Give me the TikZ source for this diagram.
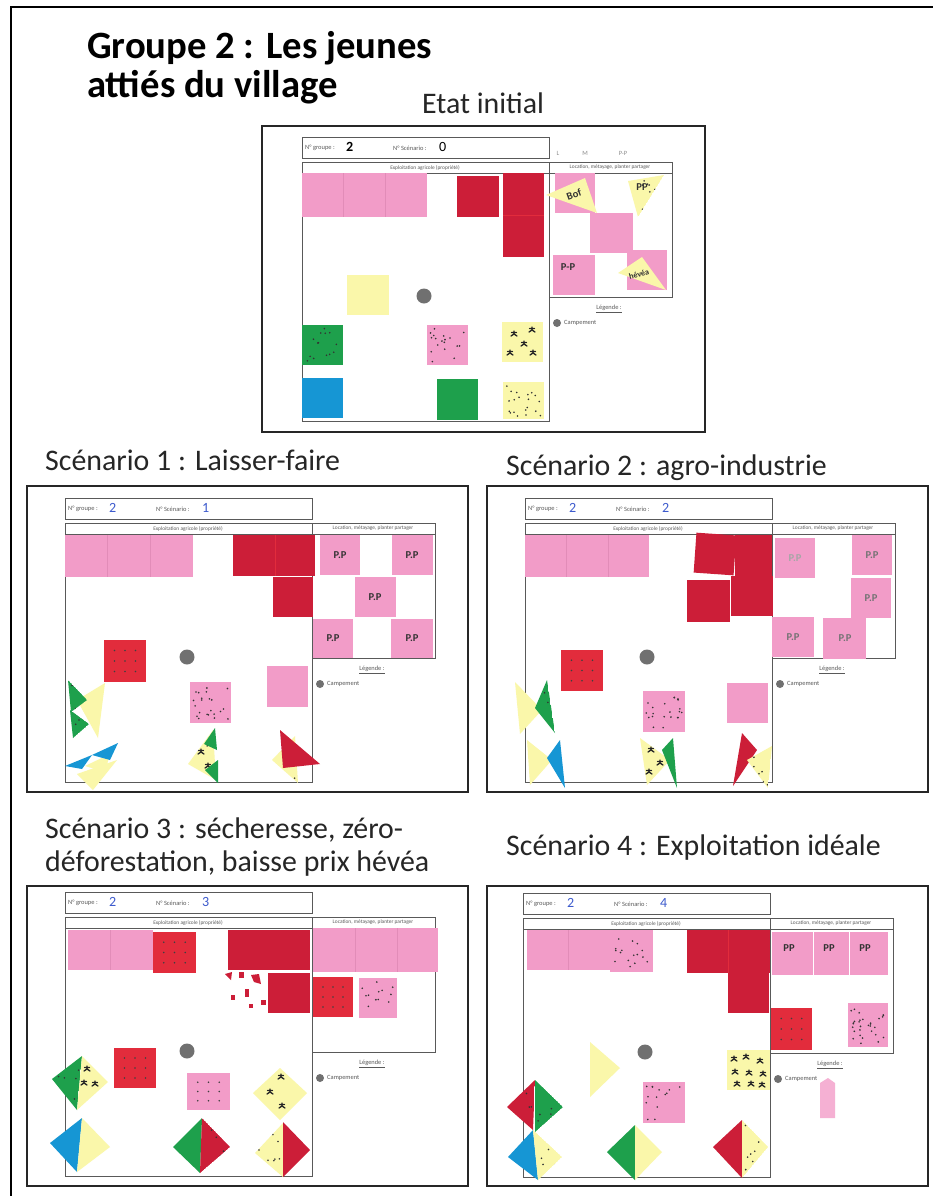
\documentclass[tikz,border=0pt]{standalone}
\usepackage{fontspec}
\setmainfont{Carlito}
\usetikzlibrary{positioning}

\definecolor{pinknote}{RGB}{242,156,200}
\definecolor{pinkseam}{RGB}{226,140,184}
\definecolor{rednote}{RGB}{204,30,56}
\definecolor{reddot}{RGB}{226,44,60}
\definecolor{greennote}{RGB}{30,160,76}
\definecolor{bluenote}{RGB}{22,150,212}
\definecolor{yellownote}{RGB}{250,247,170}
\definecolor{campgray}{RGB}{112,112,112}
\definecolor{blueink}{RGB}{60,90,205}

\tikzset{
  panel/.style={draw=black!85, line width=1.1pt},
  frameline/.style={draw=black, line width=1.6pt},
  boardline/.style={draw=black!65, line width=0.6pt},
  seam/.style={draw=#1, line width=0.5pt},
  headtxt/.style={font=\fontsize{33}{38}\selectfont\bfseries, inner sep=0pt, anchor=base west},
  captxt/.style={font=\fontsize{25.5}{30}\selectfont, inner sep=0pt, anchor=base west, text=black!85},
  tinytxt/.style={font=\fontsize{4.6}{5}\selectfont, inner sep=0pt, text=black!65},
  smalltxt/.style={font=\fontsize{5.5}{6}\selectfont, inner sep=0pt, text=black!65},
  inktxt/.style={font=\fontsize{12}{12}\selectfont, inner sep=0pt},
  handtxt/.style={font=\fontsize{9}{9}\selectfont\bfseries, inner sep=0pt, text=black!80},
  treeink/.style={draw=black!85, line width=1.1pt, line cap=round}
}

% dots scattered over a note
\newcommand{\speckle}[5]{%
  \foreach \k in {1,...,#5}{%
    \pgfmathsetmacro{\px}{#1+3+rnd*(#3-#1-6)}%
    \pgfmathsetmacro{\py}{#2+3+rnd*(#4-#2-6)}%
    \fill[black!80] (\px,\py) circle (0.9);}}
% dots in rows
\newcommand{\griddots}[4]{%
  \foreach \i in {1,2,3}{\foreach \j in {1,2,3}{%
    \fill[black!75] ({#1+\i*(#3-#1)/4},{#2+\j*(#4-#2)/4}) circle (0.9);}}}
% small tree mark
\newcommand{\sprout}[2]{%
  \draw[treeink] (#1-3,#2+2) -- (#1,#2) -- (#1+3,#2+2) (#1,#2) -- (#1,#2-3) (#1-2.5,#2-1.5) -- (#1+2.5,#2-1.5);}
% dotted triangle piece
\newcommand{\dottri}[9]{%
  \begin{scope}
    \clip #2 -- #3 -- #4 -- cycle;
    \fill[#1] #2 -- #3 -- #4 -- cycle;
    \speckle{#5}{#6}{#7}{#8}{#9}
  \end{scope}}
% empty board of one scenario
\newcommand{\board}[4]{%
  \draw[boardline] (0,0) rectangle (247,21);
  \node[smalltxt, anchor=west] (#1-grp) at (3,11) {N° groupe :};
  \node[inktxt, text=#4, anchor=west] (#1-gnum) at (44,10) {#2};
  \node[smalltxt, anchor=west] (#1-scn) at (91,11) {N° Scénario :};
  \node[inktxt, text=#4, anchor=west] (#1-snum) at (137,10) {#3};
  \draw[boardline] (0,25) rectangle (247,284);
  \draw[boardline] (0,36) -- (370,36);
  \node[tinytxt] (#1-prop) at (123,30.5) {Exploitation agricole (propriété)};
  \draw[boardline] (247,25) rectangle (370,160);
  \node[tinytxt] (#1-loc) at (308,30.5) {Location, métayage, planter partager};
  \node[smalltxt] (#1-leg) at (307,172) {\underline{Légende :}};
  \fill[campgray] (255,186) circle (4);
  \node[smalltxt, anchor=west] (#1-camp) at (262,186) {Campement};
  \fill[campgray] (122,159) circle (7.5);}

\begin{document}
\begin{tikzpicture}[x=0.03cm, y=-0.03cm]
\pgfmathsetseed{42}
\useasboundingbox (0,0) rectangle (933,1196);
\fill[white] (0,0) rectangle (933,1196);
\draw[frameline] (11,1196) -- (11,7) -- (933,7);

% titles
\node[headtxt] (title) at (87,58) {Groupe 2 : Les jeunes};
\node[headtxt] (subtitle) at (87,97) {attiés du village};
\node[captxt] (etat) at (422,113) {Etat initial};
\node[captxt] (sc1) at (45,470) {Scénario 1 : Laisser-faire};
\node[captxt] (sc2) at (506,475) {Scénario 2 : agro-industrie};
\node[captxt] (sc3a) at (45,838) {Scénario 3 : sécheresse, zéro-};
\node[captxt] (sc3b) at (45,871) {déforestation, baisse prix hévéa};
\node[captxt] (sc4) at (506,855) {Scénario 4 : Exploitation idéale};

% photo frames
\draw[panel] (262,126) rectangle (705,432);
\draw[panel] (27,486) rectangle (468,792);
\draw[panel] (487,486) rectangle (928,792);
\draw[panel] (27,886) rectangle (468,1186);
\draw[panel] (487,886) rectangle (928,1186);

% etat initial
\begin{scope}[shift={(302,137)}]
\board{e}{\textbf{2}}{0}{black}
\node[smalltxt, text=black!45] (e-l) at (256,16) {L};
\node[smalltxt, text=black!45] (e-m) at (283,16) {M};
\node[smalltxt, text=black!45] (e-pp) at (321,16) {P-P};
\fill[pinknote] (0,36) rectangle (125,80);
\draw[seam=pinkseam] (41,36) -- (41,80) (83,36) -- (83,80);
\fill[rednote] (155,39) rectangle (197,80);
\fill[rednote] (201,36) rectangle (242,120);
\draw[seam=reddot] (201,78.5) -- (242,78.5);
\fill[yellownote] (45,138) rectangle (87,178);
\fill[greennote] (0,188) rectangle (41,228); \speckle{0}{188}{41}{228}{14}
\fill[pinknote] (125,188) rectangle (166,228); \speckle{125}{188}{166}{228}{18}
\fill[yellownote] (200,185) rectangle (241,225);
\sprout{212}{197} \sprout{230}{193} \sprout{222}{207} \sprout{208}{216} \sprout{231}{216}
\fill[bluenote] (0,241) rectangle (41,281);
\fill[greennote] (135,242) rectangle (176,283);
\fill[yellownote] (201,245) rectangle (242,282); \speckle{201}{245}{242}{282}{20}
\fill[pinknote] (253,36) rectangle (293,76);
\fill[yellownote] (244,58) -- (283,41) -- (295,76) -- cycle;
\node[handtxt, rotate=20] (e-bof) at (272,58) {Bof};
\dottri{yellownote}{(326,44)}{(362,38)}{(336,80)}{326}{38}{362}{80}{10}
\node[handtxt] (e-pp1) at (340,50) {PP};
\fill[pinknote] (288,76) rectangle (331,116);
\fill[pinknote] (251,118) rectangle (293,158);
\node[handtxt] (e-pp2) at (266,130) {P-P};
\fill[pinknote] (325,113) rectangle (365,153);
\fill[yellownote] (316,136) -- (340,120) -- (364,153) -- cycle;
\node[handtxt, rotate=15, font=\fontsize{7}{7}\selectfont\bfseries] (e-hev) at (337,137) {hévéa};
\end{scope}

% scenario 1
\begin{scope}[shift={(65,498)}]
\board{a}{2}{1}{blueink}
\fill[pinknote] (0,37) rectangle (128,79);
\draw[seam=pinkseam] (42,37) -- (42,79) (85,37) -- (85,79);
\fill[rednote] (168,37) rectangle (250,78);
\fill[rednote] (208,79) rectangle (248,119);
\draw[seam=reddot] (210,37) -- (210,78);
\fill[reddot] (39,142) rectangle (81,184); \griddots{39}{142}{81}{184}
\fill[pinknote] (202,168) rectangle (243,209);
\fill[pinknote] (125,184) rectangle (166,225); \speckle{125}{184}{166}{225}{22}
\fill[yellownote] (12,202) -- (40,185) -- (33,240) -- cycle;
\dottri{greennote}{(3,182)}{(22,202)}{(6,214)}{3}{182}{22}{214}{3}
\dottri{greennote}{(5,212)}{(24,226)}{(8,240)}{5}{212}{24}{240}{3}
\fill[yellownote] (12,276) -- (52,262) -- (28,292) -- cycle;
\fill[yellownote] (20,268) -- (45,256) -- (40,274) -- cycle;
\fill[bluenote] (0,268) -- (27,257) -- (17,271) -- cycle;
\fill[bluenote] (27,257) -- (53,245) -- (45,262) -- cycle;
\fill[yellownote] (123,266) -- (148,232) -- (151,282) -- cycle;
\sprout{136}{254} \sprout{143}{268} \sprout{145}{246}
\fill[greennote] (139,246) -- (150,230) -- (152,252) -- cycle;
\fill[greennote] (140,272) -- (153,262) -- (153,285) -- cycle;
\dottri{yellownote}{(207,262)}{(230,238)}{(233,285)}{207}{238}{233}{285}{6}
\fill[rednote] (215,232) -- (255,266) -- (218,270) -- cycle;
\fill[pinknote] (255,37) rectangle (295,77);
\fill[pinknote] (327,37) rectangle (368,77);
\fill[pinknote] (290,79) rectangle (331,119);
\fill[pinknote] (248,121) rectangle (288,160);
\fill[pinknote] (326,121) rectangle (368,160);
\node[handtxt] (a-pp1) at (275,57) {P.P};
\node[handtxt] (a-pp2) at (347,57) {P.P};
\node[handtxt] (a-pp3) at (310,99) {P.P};
\node[handtxt] (a-pp4) at (268,140) {P.P};
\node[handtxt] (a-pp5) at (347,140) {P.P};
\end{scope}

% scenario 2
\begin{scope}[shift={(525,498)}]
\board{b}{2}{2}{blueink}
\fill[pinknote] (0,37) rectangle (124,79);
\draw[seam=pinkseam] (41,37) -- (41,79) (83,37) -- (83,79);
\fill[rednote, rotate around={-4:(190,56)}] (170,36) rectangle (210,76);
\fill[rednote] (210,37) rectangle (247,79);
\fill[rednote] (162,82) rectangle (205,124);
\fill[rednote] (206,78) rectangle (248,118);
\fill[reddot] (36,152) rectangle (78,193); \griddots{36}{152}{78}{193}
\fill[pinknote] (118,193) rectangle (160,234); \speckle{118}{193}{160}{234}{22}
\fill[pinknote] (202,185) rectangle (243,225);
\fill[yellownote] (-10,184) -- (17,212) -- (-5,236) -- cycle;
\dottri{greennote}{(22,182)}{(30,235)}{(10,210)}{10}{182}{30}{235}{4}
\fill[yellownote] (2,242) -- (27,262) -- (5,287) -- cycle;
\fill[bluenote] (22,260) -- (35,242) -- (40,290) -- cycle;
\fill[yellownote] (115,240) -- (145,262) -- (122,287) -- cycle;
\sprout{126}{252} \sprout{135}{265} \sprout{124}{274}
\fill[greennote] (137,252) -- (148,240) -- (152,290) -- cycle;
\fill[rednote] (217,235) -- (232,252) -- (208,288) -- cycle;
\dottri{yellownote}{(222,262)}{(247,248)}{(243,290)}{222}{248}{247}{290}{8}
\fill[pinknote] (250,40) rectangle (290,80);
\fill[pinknote] (327,37) rectangle (367,77);
\fill[pinknote] (326,80) rectangle (366,120);
\fill[pinknote] (247,119) rectangle (289,159);
\fill[pinknote] (298,120) rectangle (341,161);
\node[handtxt, text=black!35] (b-pp1) at (270,60) {P.P};
\node[handtxt, text=black!55] (b-pp2) at (347,57) {P.P};
\node[handtxt, text=black!55] (b-pp3) at (346,100) {P.P};
\node[handtxt, text=black!55] (b-pp4) at (268,139) {P.P};
\node[handtxt, text=black!55] (b-pp5) at (320,140) {P.P};
\end{scope}

% scenario 3
\begin{scope}[shift={(65,892)}]
\board{c}{2}{3}{blueink}
\fill[pinknote] (3,38) rectangle (88,78);
\draw[seam=pinkseam] (45,38) -- (45,78);
\fill[reddot] (88,40) rectangle (131,81); \griddots{88}{40}{131}{81}
\fill[rednote] (163,38) rectangle (245,78);
\fill[rednote] (203,81) rectangle (245,121);
\fill[rednote] (160,82) -- (167,80) -- (166,88) -- cycle;
\fill[rednote] (174,80) rectangle (179,86);
\fill[rednote] (186,83) -- (194,82) -- (196,92) -- (189,90) -- cycle;
\fill[rednote] (180,97) rectangle (184,105);
\fill[rednote] (166,103) rectangle (170,108);
\fill[rednote] (196,108) rectangle (201,113);
\fill[rednote] (184,112) rectangle (188,116);
\fill[pinknote] (248,36) rectangle (373,80);
\draw[seam=pinkseam] (290,36) -- (290,80) (332,36) -- (332,80);
\fill[reddot] (248,85) rectangle (288,125); \griddots{248}{85}{288}{125}
\fill[pinknote] (294,86) rectangle (332,126); \speckle{294}{86}{332}{126}{12}
\fill[reddot] (49,156) rectangle (91,196); \griddots{49}{156}{91}{196}
\fill[pinknote] (122,181) rectangle (165,218); \griddots{122}{181}{165}{218}
\dottri{greennote}{(-13,187)}{(17,164)}{(12,218)}{-13}{164}{17}{218}{8}
\fill[yellownote] (17,164) -- (43,190) -- (12,218) -- cycle;
\sprout{22}{177} \sprout{19}{191} \sprout{30}{192}
\fill[yellownote] (188,201) -- (215,176) -- (242,201) -- (215,228) -- cycle;
\sprout{205}{200} \sprout{216}{185} \sprout{217}{214}
\fill[bluenote] (-15,251) -- (17,226) -- (12,280) -- cycle;
\fill[yellownote] (17,226) -- (45,255) -- (12,280) -- cycle;
\fill[greennote] (108,255) -- (137,226) -- (135,281) -- cycle;
\dottri{rednote}{(137,226)}{(165,255)}{(135,281)}{135}{226}{165}{281}{5}
\dottri{yellownote}{(190,261)}{(218,231)}{(218,285)}{190}{231}{218}{285}{14}
\fill[rednote] (218,230) -- (245,258) -- (218,285) -- cycle;
\end{scope}

% scenario 4
\begin{scope}[shift={(523,893)}]
\board{d}{2}{4}{blueink}
\fill[pinknote] (4,37) rectangle (87,77);
\draw[seam=pinkseam] (45,37) -- (45,77);
\fill[pinknote] (87,37) rectangle (130,79); \speckle{87}{37}{130}{79}{16}
\fill[rednote] (164,37) rectangle (247,80);
\fill[rednote] (205,80) rectangle (246,120);
\draw[seam=reddot] (205,37) -- (205,80);
\fill[pinknote] (249,39) rectangle (365,82);
\draw[seam=white] (290,39) -- (290,82) (326,39) -- (326,82);
\node[handtxt] (d-pp1) at (266,55) {PP};
\node[handtxt] (d-pp2) at (306,55) {PP};
\node[handtxt] (d-pp3) at (342,55) {PP};
\fill[reddot] (248,115) rectangle (289,157); \griddots{248}{115}{289}{157}
\fill[pinknote] (325,110) rectangle (365,154); \speckle{325}{110}{365}{154}{30}
\fill[yellownote] (67,149) -- (97,175) -- (67,204) -- cycle;
\fill[yellownote] (204,157) rectangle (247,197);
\sprout{211}{166} \sprout{223}{164} \sprout{237}{168} \sprout{212}{179} \sprout{226}{180}
\sprout{240}{181} \sprout{214}{191} \sprout{228}{191} \sprout{239}{192}
\fill[pinknote] (120,189) rectangle (162,230); \speckle{120}{189}{162}{230}{14}
\fill[pinknote!80!white] (297,190) -- (305,185) -- (312,190) -- (312,225) -- (297,225) -- cycle;
\dottri{rednote}{(-16,214)}{(12,187)}{(10,237)}{-16}{187}{12}{237}{4}
\dottri{greennote}{(12,187)}{(40,214)}{(12,239)}{12}{187}{40}{239}{8}
\fill[bluenote] (-15,264) -- (10,237) -- (15,287) -- cycle;
\dottri{yellownote}{(10,237)}{(39,264)}{(15,287)}{10}{237}{39}{287}{10}
\fill[greennote] (84,259) -- (112,232) -- (112,287) -- cycle;
\fill[yellownote] (112,232) -- (139,259) -- (112,287) -- cycle;
\fill[rednote] (190,254) -- (219,227) -- (219,285) -- cycle;
\dottri{yellownote}{(219,227)}{(245,254)}{(219,285)}{219}{227}{245}{285}{10}
\end{scope}
\end{tikzpicture}
\end{document}
